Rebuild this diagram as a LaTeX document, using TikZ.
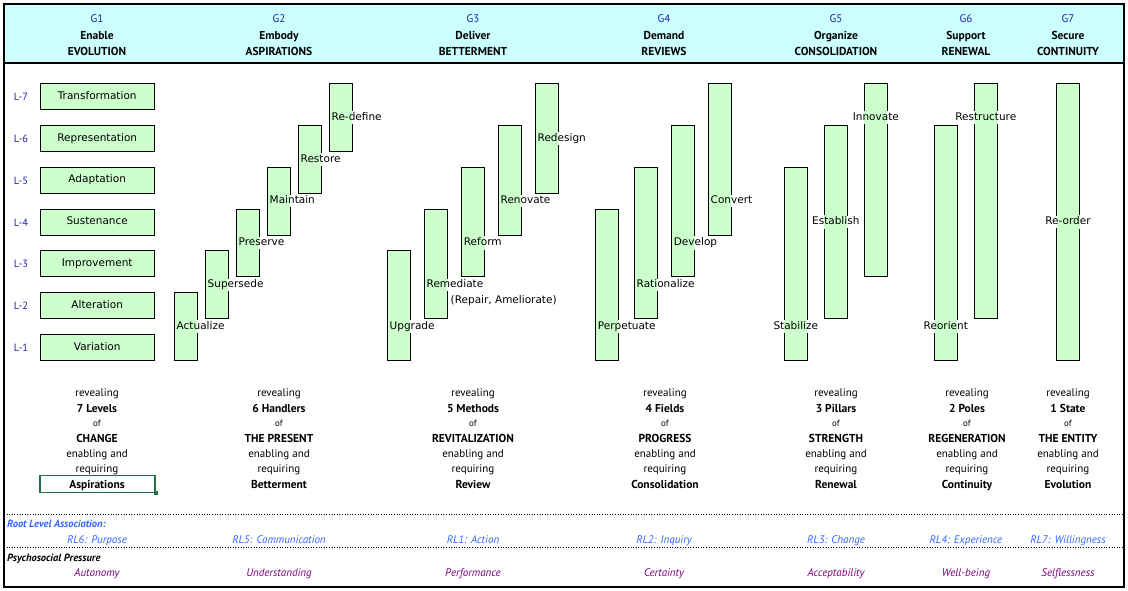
\documentclass[tikz,border=0pt]{standalone}
\usepackage{fontspec}
\setmainfont{PT Sans}
\newfontfamily\boxfont{DejaVu Sans}
\definecolor{headfill}{HTML}{CCFFFF}
\definecolor{barfill}{HTML}{CCFFCC}
\definecolor{gblue}{RGB}{30,30,170}
\definecolor{rlblue}{HTML}{3366FF}
\definecolor{psych}{HTML}{800080}
\definecolor{selgreen}{HTML}{217346}
\tikzset{
  txt/.style={text height=8pt, text depth=2.5pt, yshift=-1.3pt},
  lvbox/.style={text height=8pt, text depth=2.5pt, draw=black, line width=0.8pt, fill=barfill, minimum width=114pt, minimum height=26pt, inner sep=0pt, font=\boxfont\fontsize{10.5}{12}\selectfont},
  barbox/.style={draw=black, line width=0.8pt, fill=barfill, minimum width=23pt, inner sep=0pt, outer sep=0pt, anchor=north west},
  blbl/.style={font=\boxfont\fontsize{10.5}{12}\selectfont, inner sep=1pt, text height=8pt, text depth=2.5pt, fill=white},
  lvlab/.style={txt, font=\fontsize{10.5}{12}\selectfont, text=gblue},
  gtop/.style={txt, font=\fontsize{11}{12}\selectfont, text=gblue},
  gbold/.style={txt, font=\bfseries\fontsize{11.5}{13}\selectfont},
  bnorm/.style={txt, font=\fontsize{11}{12}\selectfont},
  bsmall/.style={txt, font=\fontsize{9}{10}\selectfont},
  rlitem/.style={txt, font=\itshape\fontsize{11}{12}\selectfont, text=rlblue},
  psitem/.style={txt, font=\itshape\fontsize{11}{12}\selectfont, text=psych},
  dotline/.style={dotted, line width=0.6pt},
}
\newcommand\mkbar[4]{%
  \pgfmathsetmacro\bt{347.5-41.83*(#4-1)-13}%
  \pgfmathsetmacro\bb{347.5-41.83*(#3-1)+13}%
  \pgfmathsetmacro\bh{\bb-\bt}%
  \node[barbox, minimum height=\bh pt] (#1) at (#2,\bt) {};%
}
\newcommand\mklbl[6]{%
  \node[blbl, anchor=#2, path picture={\fill[barfill] (#5.south west) rectangle (#5.north east);}] (#1) at (#3,#4) {#6};%
}
\begin{document}
\begin{tikzpicture}[x=1pt,y=-1pt]
\useasboundingbox (0,0) rectangle (1128,591);
\fill[white] (0,0) rectangle (1128,591);
% header band
\fill[headfill] (4,4) rectangle (1124,63);
\draw[line width=1.2pt] (4,63) -- (1124,63);
% header texts
\foreach \i/\x/\v/\w in {1/97/Enable/EVOLUTION, 2/279/Embody/ASPIRATIONS, 3/473/Deliver/BETTERMENT, 4/664/Demand/REVIEWS, 5/836/Organize/CONSOLIDATION, 6/966/Support/RENEWAL, 7/1068/Secure/CONTINUITY}{
  \node[gtop] (g\i) at (\x,18) {G\i};
  \node[gbold] (gv\i) at (\x,35) {\v};
  \node[gbold] (gw\i) at (\x,51) {\w};
}
% level boxes
\foreach \k/\t in {1/Variation, 2/Alteration, 3/Improvement, 4/Sustenance, 5/Adaptation, 6/Representation, 7/Transformation}{
  \pgfmathsetmacro\cy{347.5-41.83*(\k-1)}
  \node[lvlab] (ll\k) at (21,\cy) {L-\k};
  \node[lvbox] (lv\k) at (97.2,\cy) {\t};
}
% bars G2
\mkbar{a1}{174.3}{1}{2}
\mkbar{a2}{205.3}{2}{3}
\mkbar{a3}{236.3}{3}{4}
\mkbar{a4}{267.3}{4}{5}
\mkbar{a5}{298.3}{5}{6}
\mkbar{a6}{329.3}{6}{7}
% bars G3
\mkbar{b1}{387.3}{1}{3}
\mkbar{b2}{424.3}{2}{4}
\mkbar{b3}{461.5}{3}{5}
\mkbar{b4}{498.3}{4}{6}
\mkbar{b5}{535.3}{5}{7}
% bars G4
\mkbar{c1}{595.5}{1}{4}
\mkbar{c2}{634.3}{2}{5}
\mkbar{c3}{671.5}{3}{6}
\mkbar{c4}{708.3}{4}{7}
% bars G5
\mkbar{d1}{784.3}{1}{5}
\mkbar{d2}{824.3}{2}{6}
\mkbar{d3}{864.3}{3}{7}
% bars G6
\mkbar{e1}{934.3}{1}{6}
\mkbar{e2}{974.3}{2}{7}
% bar G7
\mkbar{f1}{1056.5}{1}{7}
% bar labels
\mklbl{ta1}{west}{175.5}{326.6}{a1}{Actualize}
\mklbl{ta2}{west}{206.5}{284.8}{a2}{Supersede}
\mklbl{ta3}{west}{237.5}{242.9}{a3}{Preserve}
\mklbl{ta4}{west}{268.5}{201.1}{a4}{Maintain}
\mklbl{ta5}{west}{299.5}{159.3}{a5}{Restore}
\mklbl{ta6}{west}{330.5}{117.4}{a6}{Re-define}
\mklbl{tb1}{west}{388.5}{326.6}{b1}{Upgrade}
\mklbl{tb2}{west}{425.5}{284.8}{b2}{Remediate}
\node[blbl, anchor=west, fill=none] (tb2x) at (449.5,301) {(Repair, Ameliorate)};
\mklbl{tb3}{west}{462.7}{242.9}{b3}{Reform}
\mklbl{tb4}{west}{499.5}{201.1}{b4}{Renovate}
\mklbl{tb5}{west}{536.5}{138.3}{b5}{Redesign}
\mklbl{tc1}{west}{596.7}{326.6}{c1}{Perpetuate}
\mklbl{tc2}{west}{635.5}{284.8}{c2}{Rationalize}
\mklbl{tc3}{west}{672.7}{242.9}{c3}{Develop}
\mklbl{tc4}{west}{709.5}{201.1}{c4}{Convert}
\mklbl{td1}{center}{795.8}{326.6}{d1}{Stabilize}
\mklbl{td2}{center}{835.8}{222}{d2}{Establish}
\mklbl{td3}{center}{875.8}{117.4}{d3}{Innovate}
\mklbl{te1}{center}{945.8}{326.6}{e1}{Reorient}
\mklbl{te2}{center}{985.8}{117.4}{e2}{Restructure}
\mklbl{tf1}{center}{1068}{222}{f1}{Re-order}
% bottom texts
\foreach \i/\x/\n/\w/\r in {1/97/7 Levels/CHANGE/Aspirations, 2/279/6 Handlers/THE PRESENT/Betterment, 3/473/5 Methods/REVITALIZATION/Review, 4/665/4 Fields/PROGRESS/Consolidation, 5/836/3 Pillars/STRENGTH/Renewal, 6/967/2 Poles/REGENERATION/Continuity, 7/1068/1 State/THE ENTITY/Evolution}{
  \node[bnorm] (rv\i) at (\x,392) {revealing};
  \node[gbold] (nm\i) at (\x,408) {\n};
  \node[bsmall] (of\i) at (\x,422.5) {of};
  \node[gbold] (wd\i) at (\x,438) {\w};
  \node[bnorm] (en\i) at (\x,453.5) {enabling and};
  \node[bnorm] (rq\i) at (\x,468.5) {requiring};
  \node[gbold] (rs\i) at (\x,484) {\r};
}
% selection box
\node[draw=selgreen, line width=1.4pt, minimum width=115pt, minimum height=17pt, inner sep=0pt] (sel) at (97.3,484) {};
\node[fill=selgreen, minimum size=4pt, inner sep=0pt] (selh) at (sel.south east) {};
% footer
\draw[dotline] (4,514) -- (1124,514);
\draw[dotline] (4,547) -- (1124,547);
\node[txt, anchor=west, font=\bfseries\itshape\fontsize{10.5}{12}\selectfont, text=rlblue, inner sep=0pt] (rlh) at (7,523) {Root Level Association:};
\node[txt, anchor=west, font=\bfseries\itshape\fontsize{10.5}{12}\selectfont, inner sep=0pt] (psh) at (7,557) {Psychosocial Pressure};
\foreach \i/\x/\r/\p in {1/97/RL6: Purpose/Autonomy, 2/279/RL5: Communication/Understanding, 3/473/RL1: Action/Performance, 4/664/RL2: Inquiry/Certainty, 5/836/RL3: Change/Acceptability, 6/966/RL4: Experience/Well-being, 7/1068/RL7: Willingness/Selflessness}{
  \node[rlitem] (rl\i) at (\x,539) {\r};
  \node[psitem] (ps\i) at (\x,572) {\p};
}
% frame
\draw[line width=2pt] (4,4) rectangle (1124,587);
\end{tikzpicture}
\end{document}
